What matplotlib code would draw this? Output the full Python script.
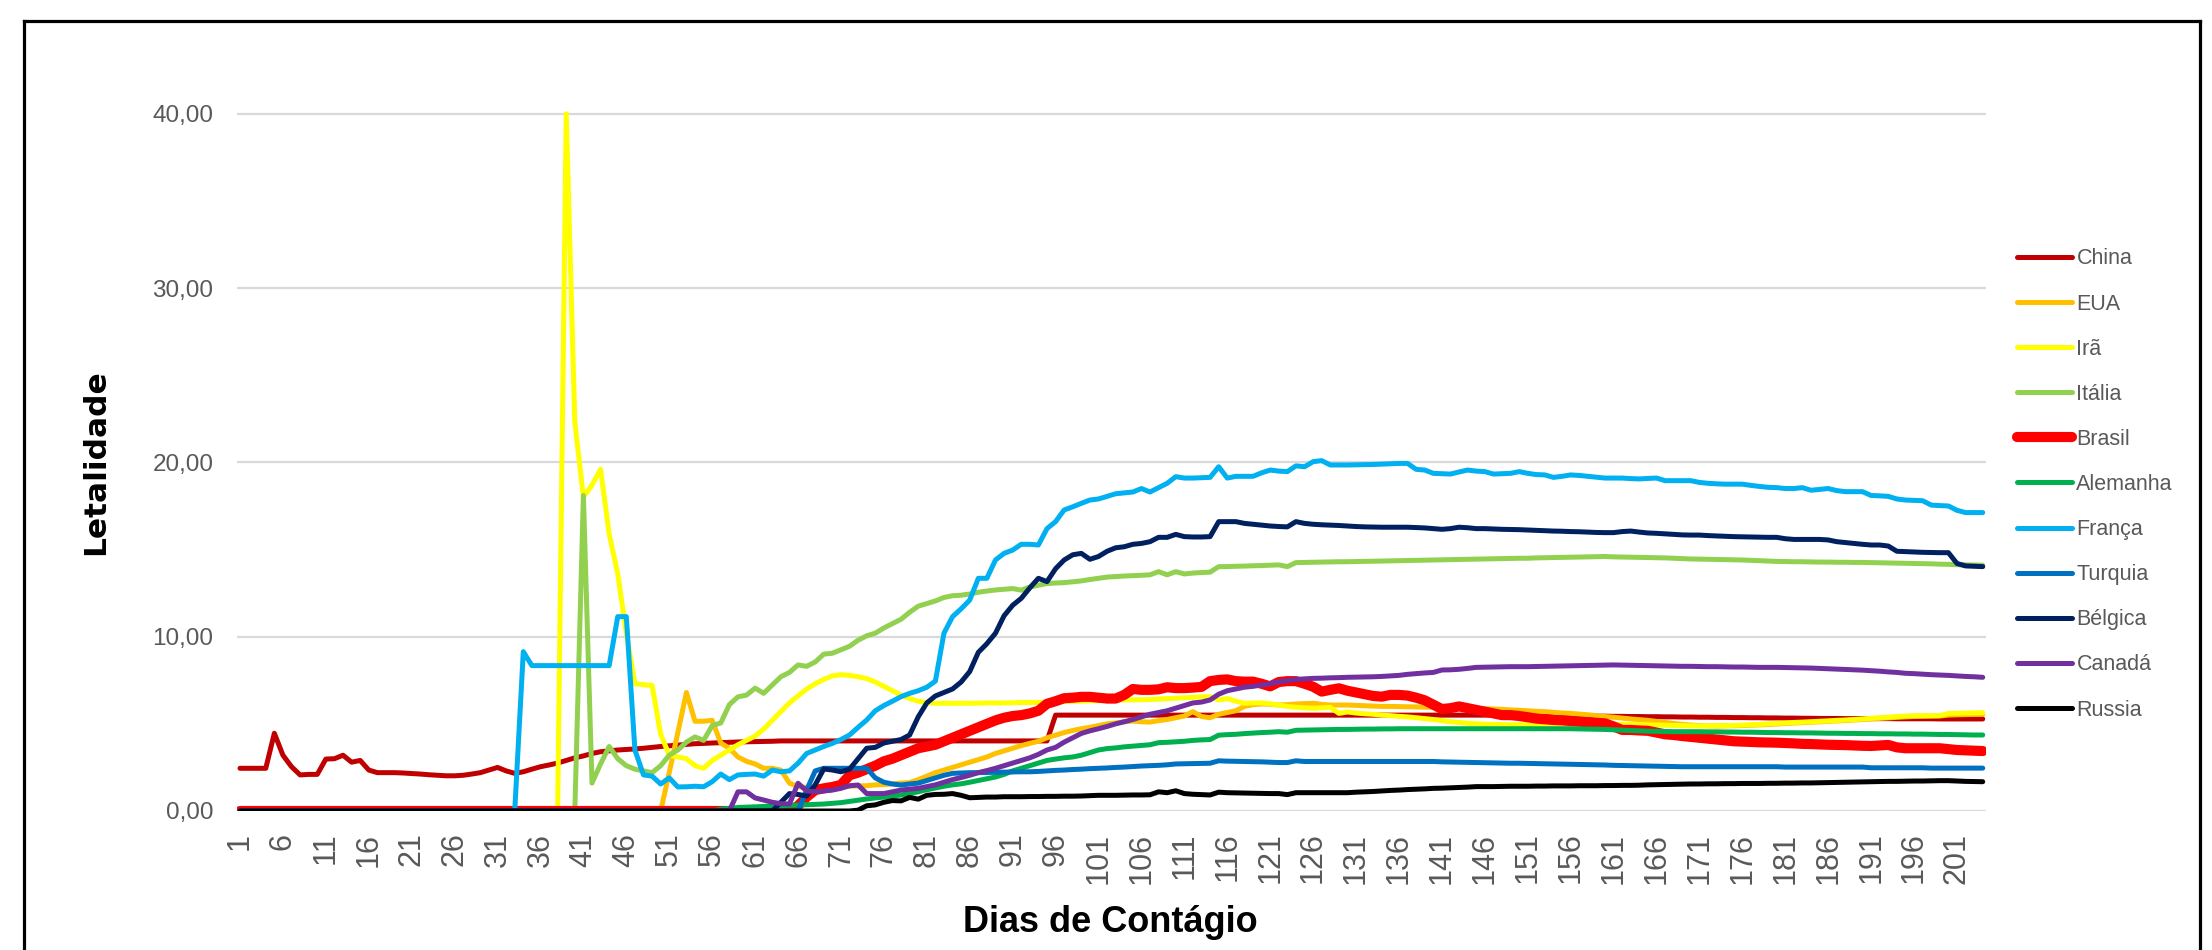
import matplotlib
matplotlib.use("Agg")
import matplotlib.pyplot as plt
from matplotlib.lines import Line2D
from matplotlib.ticker import FuncFormatter

# ---------------- data ----------------
N_DAYS = 204
days = list(range(1, N_DAYS + 1))
xtick_labels = list(range(1, 202, 5))
yticks = [0, 10, 20, 30, 40]

countries = ["China", "EUA", "Irã", "Itália", "Brasil", "Alemanha",
             "França", "Turquia", "Bélgica", "Canadá", "Russia"]
colors = ["#C00000", "#FFC000", "#FFFF00", "#92D050", "#FF0000", "#00B050",
          "#00B0F0", "#0070C0", "#002060", "#7030A0", "#000000"]

china = ([2.45, 2.45, 2.45, 2.45, 4.46, 3.2, 2.54, 2.07, 2.1, 2.1,
          2.98, 3.0, 3.2, 2.8, 2.9, 2.35, 2.2, 2.2, 2.2, 2.18,
          2.15, 2.12, 2.08, 2.05, 2.02, 2.02, 2.05, 2.12, 2.2, 2.35,
          2.5, 2.3, 2.16, 2.25, 2.4, 2.54, 2.64, 2.75, 2.9, 3.05,
          3.16, 3.3, 3.4, 3.45, 3.5, 3.53, 3.56, 3.6, 3.65, 3.7,
          3.74, 3.78, 3.82, 3.86, 3.88, 3.9, 3.92, 3.94, 3.96, 3.97,
          3.98, 3.99, 4.0]
         + [4.02] * 32
         + [5.5] * 55
         + [5.48, 5.48, 5.47, 5.47, 5.46, 5.46, 5.45, 5.45, 5.44, 5.44,
            5.43, 5.43, 5.42, 5.42, 5.41, 5.41, 5.4, 5.4, 5.39, 5.39,
            5.38, 5.38, 5.37, 5.37, 5.36, 5.36, 5.35, 5.35, 5.34, 5.34,
            5.33, 5.33, 5.32, 5.32, 5.31, 5.31, 5.31, 5.3, 5.3, 5.3,
            5.3, 5.3, 5.3, 5.29, 5.29, 5.29, 5.29, 5.29, 5.28, 5.28,
            5.28, 5.28, 5.28, 5.28])

eua = ([0.0] * 49
       + [0.0, 2.2, 4.5, 6.8, 5.15, 5.15, 5.2, 3.9, 3.6, 3.1,
          2.85, 2.7, 2.45, 2.45, 2.35, 1.6, 1.4, 1.35, 1.35, 1.35,
          1.38, 1.4, 1.42, 1.44, 1.45, 1.5, 1.52, 1.55, 1.6, 1.63,
          1.8, 2.0, 2.2, 2.35, 2.5, 2.65, 2.8, 2.95, 3.1, 3.3,
          3.45, 3.6, 3.75, 3.88, 4.0, 4.2, 4.35, 4.5, 4.62, 4.72,
          4.8, 4.9, 5.0, 5.05, 5.12, 5.16, 5.12, 5.1, 5.18, 5.25,
          5.35, 5.45, 5.7, 5.42, 5.35, 5.55, 5.65, 5.75, 6.0, 6.1,
          6.14, 6.12, 6.08, 6.1, 6.14, 6.16, 6.18, 6.12, 6.08, 6.08,
          6.08, 6.06, 6.04, 6.02, 6.0, 6.0, 5.99, 5.98, 5.97, 5.96,
          5.95, 5.95, 5.93, 5.92, 5.9, 5.89, 5.87, 5.85, 5.83, 5.8,
          5.78, 5.75, 5.72, 5.7, 5.66, 5.62, 5.6, 5.56, 5.52, 5.47,
          5.42, 5.38, 5.33, 5.28, 5.24, 5.2, 5.14, 5.08, 5.02, 4.97,
          4.93, 4.9, 4.88, 4.87, 4.88, 4.89, 4.9, 4.92, 4.94, 4.96,
          4.99, 5.02, 5.05, 5.07, 5.09, 5.12, 5.14, 5.17, 5.19, 5.22,
          5.25, 5.28, 5.31, 5.34, 5.37, 5.4, 5.42, 5.43, 5.44, 5.45,
          5.5, 5.52, 5.53, 5.54, 5.55])

ira = ([0.0] * 38
       + [40.0, 22.3, 18.0, 18.7, 19.6, 15.9, 13.6, 10.2, 7.3, 7.25,
          7.2, 4.4, 3.2, 3.1, 3.0, 2.6, 2.45, 2.9, 3.2, 3.5,
          3.8, 4.05, 4.3, 4.7, 5.2, 5.7, 6.2, 6.6, 7.0, 7.3,
          7.55, 7.75, 7.82, 7.78, 7.7, 7.6, 7.4, 7.15, 6.9, 6.65,
          6.45, 6.3, 6.22, 6.18, 6.18, 6.18, 6.18, 6.18, 6.19, 6.2,
          6.2, 6.2, 6.21, 6.22, 6.22, 6.23, 6.25, 6.27, 6.28, 6.3,
          6.3, 6.32, 6.33, 6.35, 6.37, 6.37, 6.38, 6.38, 6.4, 6.42,
          6.45, 6.47, 6.5, 6.52, 6.55, 6.56, 6.37, 6.45, 6.3, 6.18,
          6.2, 6.2, 6.15, 6.08, 6.0, 5.95, 5.92, 5.89, 5.92, 5.95,
          5.6, 5.68, 5.62, 5.58, 5.55, 5.5, 5.47, 5.43, 5.4, 5.35,
          5.3, 5.25, 5.18, 5.12, 5.08, 5.03, 5.0, 4.98, 4.97, 4.96,
          4.95, 4.95, 4.95, 4.95, 4.96, 4.96, 4.97, 4.97, 4.98, 4.98,
          4.98, 4.98, 4.97, 4.97, 4.96, 4.95, 4.94, 4.93, 4.92, 4.91,
          4.9, 4.89, 4.88, 4.88, 4.89, 4.9, 4.91, 4.93, 4.95, 4.97,
          5.0, 5.03, 5.05, 5.08, 5.1, 5.12, 5.15, 5.17, 5.2, 5.22,
          5.25, 5.28, 5.32, 5.36, 5.38, 5.42, 5.45, 5.47, 5.47, 5.47,
          5.47, 5.6, 5.6, 5.62, 5.63, 5.64])

italia = ([0.0] * 40
          + [18.1, 1.6, 2.7, 3.7, 3.0, 2.6, 2.4, 2.3, 2.2, 2.6,
             3.2, 3.5, 3.95, 4.25, 4.05, 4.9, 5.05, 6.1, 6.55, 6.65,
             7.05, 6.75, 7.23, 7.7, 7.95, 8.38, 8.3, 8.55, 9.0, 9.05,
             9.25, 9.45, 9.8, 10.05, 10.2, 10.5, 10.75, 11.0, 11.4, 11.75,
             11.9, 12.05, 12.25, 12.35, 12.38, 12.45, 12.55, 12.62, 12.68, 12.72,
             12.76, 12.67, 12.85, 12.95, 13.05, 13.08, 13.1, 13.15, 13.2, 13.28,
             13.35, 13.42, 13.45, 13.48, 13.5, 13.52, 13.55, 13.73, 13.55, 13.73,
             13.6, 13.65, 13.68, 13.7, 14.02, 14.02, 14.04, 14.05, 14.07, 14.08,
             14.1, 14.12, 14.02, 14.25, 14.26, 14.27, 14.28, 14.29, 14.3, 14.3,
             14.31, 14.32, 14.33, 14.34, 14.35, 14.36, 14.37, 14.38, 14.39, 14.4,
             14.41, 14.42, 14.43, 14.44, 14.45, 14.46, 14.47, 14.48, 14.49, 14.5,
             14.5, 14.52, 14.53, 14.54, 14.55, 14.56, 14.57, 14.58, 14.59, 14.6,
             14.58, 14.57, 14.56, 14.55, 14.54, 14.53, 14.52, 14.5, 14.48, 14.46,
             14.45, 14.44, 14.43, 14.42, 14.41, 14.4, 14.38, 14.36, 14.34, 14.32,
             14.31, 14.3, 14.3, 14.29, 14.28, 14.28, 14.27, 14.27, 14.26, 14.26,
             14.25, 14.24, 14.23, 14.22, 14.21, 14.2, 14.19, 14.18, 14.16, 14.15,
             14.13, 14.12, 14.11, 14.1])

brasil = ([0.0] * 65
          + [0.3, 0.8, 1.2, 1.3, 1.38, 1.5, 2.05, 2.2, 2.4, 2.6,
             2.85, 3.0, 3.2, 3.4, 3.6, 3.7, 3.8, 4.0, 4.2, 4.4,
             4.6, 4.8, 5.0, 5.2, 5.35, 5.45, 5.5, 5.6, 5.75, 6.15,
             6.3, 6.47, 6.5, 6.55, 6.55, 6.5, 6.45, 6.45, 6.66, 7.0,
             6.95, 6.95, 6.98, 7.1, 7.05, 7.05, 7.08, 7.12, 7.45, 7.52,
             7.55, 7.45, 7.42, 7.42, 7.3, 7.15, 7.4, 7.45, 7.45, 7.3,
             7.13, 6.85, 6.95, 7.04, 6.9, 6.8, 6.7, 6.6, 6.56, 6.66,
             6.66, 6.62, 6.5, 6.35, 6.1, 5.85, 5.9, 6.0, 5.9, 5.8,
             5.7, 5.6, 5.5, 5.5, 5.45, 5.38, 5.3, 5.26, 5.22, 5.2,
             5.16, 5.12, 5.1, 5.06, 5.03, 4.85, 4.65, 4.65, 4.62, 4.6,
             4.5, 4.4, 4.36, 4.3, 4.25, 4.2, 4.15, 4.1, 4.05, 4.0,
             3.98, 3.96, 3.94, 3.93, 3.92, 3.9, 3.88, 3.85, 3.84, 3.82,
             3.8, 3.79, 3.78, 3.76, 3.74, 3.73, 3.76, 3.79, 3.65, 3.6,
             3.6, 3.6, 3.6, 3.6, 3.55, 3.5, 3.48, 3.46, 3.44])

alemanha = ([0.0] * 56
            + [0.1, 0.15, 0.2, 0.22, 0.24, 0.26, 0.28, 0.3, 0.32, 0.34,
               0.36, 0.38, 0.4, 0.44, 0.48, 0.55, 0.62, 0.69, 0.75, 0.8,
               0.86, 0.92, 1.0, 1.1, 1.22, 1.32, 1.42, 1.5, 1.56, 1.65,
               1.75, 1.85, 1.95, 2.1, 2.3, 2.45, 2.6, 2.75, 2.9, 2.98,
               3.05, 3.1, 3.2, 3.35, 3.5, 3.58, 3.62, 3.68, 3.72, 3.76,
               3.8, 3.92, 3.94, 3.97, 4.0, 4.05, 4.08, 4.1, 4.35, 4.38,
               4.4, 4.44, 4.47, 4.5, 4.52, 4.55, 4.52, 4.63, 4.64, 4.65,
               4.66, 4.67, 4.68, 4.68, 4.69, 4.7, 4.7, 4.71, 4.71, 4.72]
            + [4.72] * 19
            + [4.72, 4.71, 4.7, 4.69, 4.68, 4.66, 4.64, 4.62, 4.6, 4.58,
               4.57, 4.56, 4.55, 4.55, 4.55]
            + [4.55, 4.54, 4.54, 4.53, 4.53, 4.52, 4.52, 4.51, 4.5, 4.5,
               4.49, 4.49, 4.48, 4.48, 4.47, 4.46, 4.46, 4.45, 4.45, 4.44,
               4.44, 4.43, 4.43, 4.42, 4.42, 4.41, 4.41, 4.4, 4.39, 4.39,
               4.38, 4.37, 4.36, 4.36])

franca = ([0.0] * 33
          + [9.14] + [8.34] * 10
          + [11.15, 11.15, 3.5, 2.07, 2.0, 1.55, 1.9, 1.38, 1.39, 1.42,
             1.39, 1.68, 2.12, 1.8, 2.07, 2.1, 2.12, 2.0, 2.35, 2.25,
             2.3, 2.74, 3.3, 3.5, 3.7, 3.88, 4.1, 4.36, 4.8, 5.22,
             5.75, 6.05, 6.3, 6.56, 6.75, 6.9, 7.1, 7.45, 10.2, 11.15,
             11.6, 12.1, 13.35, 13.35, 14.4, 14.78, 14.97, 15.3, 15.3, 15.26,
             16.2, 16.6, 17.27, 17.45, 17.65, 17.84, 17.9, 18.05, 18.2, 18.25,
             18.3, 18.5, 18.3, 18.55, 18.8, 19.18, 19.1, 19.1, 19.12, 19.14,
             19.75, 19.1, 19.2, 19.2, 19.2, 19.4, 19.56, 19.5, 19.47, 19.8,
             19.75, 20.04, 20.1, 19.85, 19.85, 19.85, 19.86, 19.87, 19.88, 19.9,
             19.92, 19.94, 19.94, 19.6, 19.56, 19.37, 19.35, 19.33, 19.45, 19.56,
             19.5, 19.47, 19.33, 19.35, 19.37, 19.47, 19.37, 19.3, 19.28, 19.14,
             19.2, 19.28, 19.25, 19.2, 19.15, 19.1, 19.1, 19.1, 19.07, 19.05,
             19.08, 19.1, 18.95, 18.95, 18.95, 18.95, 18.85, 18.8, 18.77, 18.75,
             18.75, 18.75, 18.68, 18.62, 18.57, 18.55, 18.5, 18.5, 18.55, 18.4,
             18.45, 18.5, 18.38, 18.32, 18.32, 18.32, 18.1, 18.08, 18.05, 17.9,
             17.84, 17.82, 17.8, 17.55, 17.52, 17.5, 17.25, 17.12, 17.12, 17.12])

turquia = ([0.0] * 66
           + [1.2, 2.3, 2.45, 2.45, 2.45, 2.45, 2.45, 2.45, 1.9, 1.65,
              1.55, 1.49, 1.55, 1.6, 1.75, 1.9, 2.05, 2.16, 2.18, 2.2,
              2.2, 2.21, 2.22, 2.23, 2.24, 2.25, 2.25, 2.27, 2.3, 2.33,
              2.35, 2.38, 2.4, 2.43, 2.45, 2.47, 2.5, 2.52, 2.55, 2.58,
              2.6, 2.62, 2.65, 2.7, 2.71, 2.72, 2.73, 2.74, 2.88, 2.86,
              2.85, 2.84, 2.83, 2.82, 2.8, 2.78, 2.78, 2.88, 2.84, 2.84]
           + [2.84] * 10
           + [2.84, 2.84, 2.84, 2.84, 2.82, 2.81, 2.8, 2.79, 2.78, 2.77,
              2.76, 2.75, 2.74, 2.74, 2.73, 2.72, 2.71, 2.7, 2.69, 2.68,
              2.67, 2.66, 2.65, 2.64, 2.62, 2.61, 2.6, 2.59, 2.58, 2.57,
              2.56, 2.55, 2.54, 2.54, 2.54, 2.54, 2.54, 2.54, 2.54, 2.54,
              2.54, 2.54, 2.54, 2.54, 2.52, 2.52, 2.52, 2.52, 2.52, 2.52,
              2.52, 2.52, 2.52, 2.52, 2.48, 2.48, 2.48, 2.48, 2.48, 2.48,
              2.48, 2.46, 2.46, 2.46, 2.46, 2.46, 2.46, 2.46])

belgica = ([0.0] * 63
           + [0.5, 1.0, 0.95, 0.86, 1.5, 2.41, 2.35, 2.25, 2.4, 3.0,
              3.6, 3.65, 3.9, 4.0, 4.1, 4.36, 5.4, 6.2, 6.6, 6.8,
              7.0, 7.4, 8.0, 9.1, 9.6, 10.2, 11.2, 11.8, 12.2, 12.8,
              13.35, 13.16, 13.9, 14.4, 14.7, 14.78, 14.44, 14.6, 14.9, 15.1,
              15.16, 15.3, 15.35, 15.45, 15.7, 15.7, 15.87, 15.74, 15.72, 15.72,
              15.74, 16.6, 16.6, 16.6, 16.5, 16.45, 16.4, 16.35, 16.32, 16.3,
              16.6, 16.5, 16.45, 16.42, 16.4, 16.38, 16.35, 16.32, 16.3, 16.29,
              16.28, 16.28, 16.28, 16.28, 16.26, 16.24, 16.2, 16.16, 16.2, 16.28,
              16.25, 16.2, 16.2, 16.18, 16.16, 16.15, 16.14, 16.12, 16.1, 16.08,
              16.06, 16.05, 16.03, 16.02, 16.0, 15.98, 15.97, 15.97, 16.03, 16.06,
              16.0, 15.95, 15.93, 15.9, 15.87, 15.84, 15.83, 15.83, 15.8, 15.78,
              15.76, 15.74, 15.73, 15.72, 15.71, 15.7, 15.7, 15.62, 15.58, 15.58,
              15.58, 15.58, 15.55, 15.45, 15.4, 15.35, 15.3, 15.26, 15.26, 15.2,
              14.9, 14.88, 14.86, 14.84, 14.83, 14.82, 14.82, 14.2, 14.06, 14.04,
              14.02])

canada = ([0.0] * 58
          + [1.1, 1.1, 0.75, 0.63, 0.5, 0.42, 0.4, 1.59, 1.15, 1.1,
             1.15, 1.2, 1.3, 1.45, 1.49, 1.0, 1.0, 1.0, 1.1, 1.2,
             1.25, 1.3, 1.4, 1.5, 1.65, 1.8, 1.92, 2.05, 2.2, 2.32,
             2.45, 2.6, 2.75, 2.9, 3.05, 3.25, 3.5, 3.65, 3.95, 4.2,
             4.45, 4.6, 4.72, 4.85, 5.0, 5.12, 5.25, 5.4, 5.55, 5.65,
             5.75, 5.9, 6.05, 6.2, 6.25, 6.37, 6.7, 6.9, 7.0, 7.1,
             7.15, 7.23, 7.3, 7.42, 7.48, 7.55, 7.58, 7.61, 7.62, 7.64,
             7.65, 7.67, 7.68, 7.69, 7.7, 7.72, 7.75, 7.78, 7.84, 7.88,
             7.92, 7.95, 8.09, 8.1, 8.13, 8.18, 8.24, 8.25, 8.26, 8.27,
             8.28, 8.28, 8.28, 8.29, 8.3, 8.31, 8.32, 8.33, 8.34, 8.35,
             8.36, 8.37, 8.38, 8.37, 8.36, 8.35, 8.34, 8.33, 8.32, 8.31,
             8.3, 8.3, 8.29, 8.28, 8.28, 8.27, 8.26, 8.26, 8.25, 8.24,
             8.24, 8.24, 8.23, 8.22, 8.21, 8.2, 8.18, 8.16, 8.14, 8.12,
             8.1, 8.08, 8.05, 8.02, 7.98, 7.95, 7.9, 7.88, 7.85, 7.82,
             7.8, 7.78, 7.75, 7.72, 7.7, 7.67])

russia = ([0.0] * 72
          + [0.05, 0.3, 0.35, 0.5, 0.6, 0.58, 0.78, 0.68, 0.9, 0.95,
             0.96, 1.0, 0.9, 0.76, 0.78, 0.8, 0.8, 0.82, 0.82, 0.82,
             0.83, 0.83, 0.84, 0.84, 0.85, 0.85, 0.86, 0.88, 0.9, 0.9,
             0.9, 0.91, 0.92, 0.92, 0.93, 1.1, 1.05, 1.16, 1.0, 0.96,
             0.94, 0.92, 1.08, 1.05, 1.04, 1.03, 1.02, 1.01, 1.0, 1.0,
             0.94, 1.05, 1.05, 1.05, 1.05, 1.05, 1.05, 1.05, 1.08, 1.1,
             1.12, 1.15, 1.18, 1.2, 1.23, 1.25, 1.27, 1.3, 1.31, 1.33,
             1.35, 1.37, 1.4, 1.4, 1.4, 1.41, 1.42, 1.42, 1.42, 1.43,
             1.43, 1.44, 1.44, 1.44, 1.45, 1.45, 1.45, 1.46, 1.46, 1.47,
             1.47, 1.48, 1.5, 1.51, 1.52, 1.53, 1.54, 1.55, 1.55, 1.56,
             1.56, 1.57, 1.57, 1.58, 1.58, 1.58, 1.59, 1.59, 1.6, 1.6,
             1.61, 1.61, 1.62, 1.63, 1.64, 1.65, 1.66, 1.67, 1.68, 1.69,
             1.7, 1.7, 1.71, 1.72, 1.72, 1.73, 1.74, 1.74, 1.72, 1.7,
             1.69, 1.68])

series = [china, eua, ira, italia, brasil, alemanha,
          franca, turquia, belgica, canada, russia]
for name, s in zip(countries, series):
    assert len(s) == N_DAYS, (name, len(s))

# ---------------- figure ----------------
W, H = 2212, 950
fig = plt.figure(figsize=(W / 100, H / 100), dpi=100)
fig.patch.set_facecolor("white")

ax = fig.add_axes([237 / W, 139 / H, 1749 / W, 784.4 / H])

for name, s, c in zip(countries, series, colors):
    lw = 7.3 if name == "Brasil" else 3.6
    ax.plot(days, s, color=c, lw=lw, label=name,
            solid_capstyle="round", solid_joinstyle="round", zorder=3)

ax.set_xlim(0.65, 204.38)
ax.set_ylim(0, 45)
ax.set_yticks(yticks)
ax.yaxis.set_major_formatter(FuncFormatter(lambda v, p: f"{v:.2f}".replace(".", ",")))
ax.set_xticks(xtick_labels)
ax.set_xticklabels([str(v) for v in xtick_labels])

ax.grid(axis="y", color="#D9D9D9", lw=1.6)
ax.set_axisbelow(True)
for sp in ax.spines.values():
    sp.set_visible(False)

ax.tick_params(axis="both", length=0)
ax.tick_params(axis="y", pad=17, labelsize=17.5, labelcolor="#595959")
ax.tick_params(axis="x", pad=15.5, labelsize=22, labelcolor="#595959",
               labelrotation=90)
for lab in ax.get_xticklabels() + ax.get_yticklabels():
    lab.set_fontfamily(["Liberation Sans", "DejaVu Sans"])

# axis titles
fig.text(96 / W, 1 - 462 / H, "Letalidade", rotation=90, ha="center", va="center",
         fontsize=22.5, fontweight="bold", family=["DejaVu Sans"], color="black")
fig.text(1110 / W, 1 - 923 / H, "Dias de Contágio", ha="center", va="center",
         fontsize=26, fontweight="bold", family=["Liberation Sans", "DejaVu Sans"],
         color="black")

# legend
leg = ax.legend(loc="center left", bbox_to_anchor=(2017 / W, 1 - 484.5 / H),
                bbox_transform=fig.transFigure, frameon=False,
                prop={"family": ["Liberation Sans", "DejaVu Sans"], "size": 15.5},
                handlelength=2.56, handletextpad=0.2, labelspacing=1.12,
                borderpad=0, borderaxespad=0)
for t in leg.get_texts():
    t.set_color("#595959")

# outer chart border
bx0, bx1 = 24 / W, 2200 / W
by1 = 1 - 21 / H
for xs, ys in [((bx0, bx1), (by1, by1)), ((bx0, bx0), (by1, -0.05)),
               ((bx1, bx1), (by1, -0.05))]:
    fig.add_artist(Line2D(xs, ys, transform=fig.transFigure, color="black", lw=2.3))

fig.savefig("out.png", dpi=100)
